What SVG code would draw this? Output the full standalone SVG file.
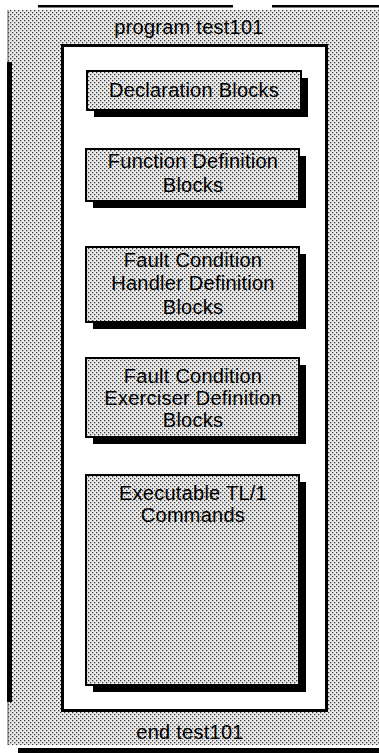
<svg xmlns="http://www.w3.org/2000/svg" width="379" height="753" viewBox="0 0 379 753">
<style>
  .lbl { font-family: "Liberation Sans", Arial, sans-serif; font-size: 20px; letter-spacing: 0.25px; fill: #000; text-anchor: middle; }
  .box { fill: url(#dots); stroke: #000; stroke-width: 2; }
  .shadow { fill: #000; }
</style>
<defs>
  <pattern id="dots" x="0" y="0" width="4" height="4" patternUnits="userSpaceOnUse">
    <rect width="4" height="4" fill="#ececec"/>
    <rect x="0" y="0" width="1.3" height="1.3" fill="#3a3a3a"/>
    <rect x="2" y="2" width="1.3" height="1.3" fill="#3a3a3a"/>
  </pattern>
</defs>
<rect width="379" height="753" fill="#fff"/>
<g id="program">
  <rect x="8" y="10" width="371" height="735" fill="url(#dots)"/>
  <line x1="8" y1="10" x2="8" y2="62" stroke="#555" stroke-width="1"/>
  <line x1="8" y1="702" x2="8" y2="745" stroke="#555" stroke-width="1"/>
  <rect x="7" y="62" width="5" height="640" fill="#000"/>
  <rect x="38" y="5" width="195" height="2.5" fill="#000"/>
  <rect x="272" y="5" width="107" height="2.5" fill="#000"/>
  <rect x="18" y="748" width="361" height="5" fill="#000"/>
  <text class="lbl" x="189" y="34">program test101</text>
  <text class="lbl" x="190" y="739">end test101</text>
  <rect x="62.5" y="45.5" width="264" height="665" fill="#fff" stroke="#000" stroke-width="3"/>
</g>
<g id="decl">
  <rect class="shadow" x="94" y="78" width="214" height="39"/>
  <rect class="box" x="87" y="71" width="214" height="39"/>
  <text class="lbl" x="194" y="97">Declaration Blocks</text>
</g>
<g id="func">
  <rect class="shadow" x="93" y="156" width="213" height="52"/>
  <rect class="box" x="86" y="149" width="213" height="52"/>
  <text class="lbl" x="193" y="168">Function Definition</text>
  <text class="lbl" x="193" y="192">Blocks</text>
</g>
<g id="handler">
  <rect class="shadow" x="93" y="254" width="213" height="75"/>
  <rect class="box" x="86" y="247" width="213" height="75"/>
  <text class="lbl" x="193" y="267">Fault Condition</text>
  <text class="lbl" x="193" y="290">Handler Definition</text>
  <text class="lbl" x="193" y="314">Blocks</text>
</g>
<g id="exerciser">
  <rect class="shadow" x="93" y="365" width="213" height="79"/>
  <rect class="box" x="86" y="358" width="213" height="79"/>
  <text class="lbl" x="193" y="383">Fault Condition</text>
  <text class="lbl" x="193" y="405">Exerciser Definition</text>
  <text class="lbl" x="193" y="427">Blocks</text>
</g>
<g id="executable">
  <rect class="shadow" x="93" y="482" width="213" height="210"/>
  <rect class="box" x="86" y="475" width="213" height="210"/>
  <text class="lbl" x="193" y="500">Executable TL/1</text>
  <text class="lbl" x="193" y="522">Commands</text>
</g>
<g id="connectors"></g>
</svg>
